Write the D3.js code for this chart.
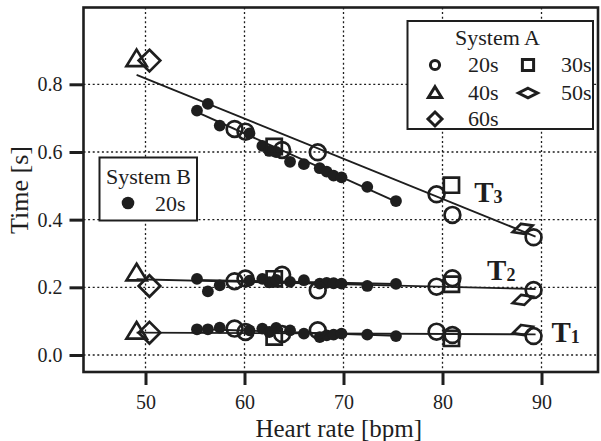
<!DOCTYPE html>
<html><head><meta charset="utf-8">
<script src="https://cdn.jsdelivr.net/npm/d3@7"></script>
<style>
body{margin:0;background:#fff}
text{font-family:"Liberation Serif","Times New Roman",serif;fill:#1e1e1e}
</style>
</head><body>
<svg id="c" width="601" height="441"></svg>
<script>
// ---- data ----
const hrA20 = [59.0, 60.1, 63.8, 67.4, 79.4, 81.0, 89.2];
const t3A20 = [0.668, 0.660, 0.606, 0.599, 0.475, 0.414, 0.348];
const t2A20 = [0.218, 0.226, 0.237, 0.191, 0.202, 0.227, 0.192];
const t1A20 = [0.078, 0.068, 0.062, 0.073, 0.069, 0.059, 0.056];

const hrA30 = [63.0, 80.9];
const t3A30 = [0.616, 0.502];
const t2A30 = [0.225, 0.209];
const t1A30 = [0.053, 0.049];

const hrA40 = [49.1];
const t3A40 = [0.874];
const t2A40 = [0.241];
const t1A40 = [0.069];

const hrA50 = [88.1];
const t3A50 = [0.373];
const t2A50 = [0.163];
const t1A50 = [0.074];

const hrA60 = [50.4];
const t3A60 = [0.870];
const t2A60 = [0.204];
const t1A60 = [0.066];

const hrB20 = [55.2, 56.3, 57.5, 60.5, 61.8, 62.5, 63.2, 64.6, 66.0, 67.6, 68.3, 69.0, 69.8, 72.4, 75.3];
const t3B20 = [0.722, 0.742, 0.678, 0.655, 0.618, 0.603, 0.600, 0.571, 0.564, 0.552, 0.542, 0.530, 0.525, 0.497, 0.455];
const t2B20 = [0.225, 0.188, 0.206, 0.220, 0.225, 0.215, 0.222, 0.216, 0.221, 0.211, 0.213, 0.212, 0.211, 0.204, 0.210];
const t1B20 = [0.076, 0.076, 0.081, 0.073, 0.078, 0.068, 0.080, 0.073, 0.063, 0.053, 0.058, 0.060, 0.063, 0.060, 0.056];

// fitted lines (end points)
const fitAhr = [49.1, 89.4];
const fitAT3 = [0.828, 0.350];
const fitAT2 = [0.224, 0.195];
const fitAT1 = [0.066, 0.061];
const fitBhr = [55.2, 75.3];
const fitBT3 = [0.718, 0.453];
const fitBT2 = [0.222, 0.210];
const fitBT1 = [0.077, 0.057];

const xTicks = [50, 60, 70, 80, 90];
const yTicks = [0.0, 0.2, 0.4, 0.6, 0.8];
const seriesLabels = ["T3", "T2", "T1"];
const labelPos = [[83.2, 0.453], [84.5, 0.222], [91.0, 0.038]]; // anchor in data units

// ---- layout ----
const INK = "#1e1e1e";
const svg = d3.select("#c");
const L = 83.5, R = 598, T = 7.5, B = 372;
const x = d3.scaleLinear().domain([50, 90]).range([145.5, 541.5]);
const y = d3.scaleLinear().domain([0, 0.8]).range([355, 84.3]);

// grid
const g = svg.append("g");
g.selectAll(".vg").data(xTicks).join("line")
  .attr("x1", d => x(d)).attr("x2", d => x(d)).attr("y1", T).attr("y2", B)
  .attr("stroke", INK).attr("stroke-width", 1.3).attr("stroke-dasharray", "2,2.6");
g.selectAll(".hg").data(yTicks).join("line")
  .attr("y1", d => y(d)).attr("y2", d => y(d)).attr("x1", L).attr("x2", R)
  .attr("stroke", INK).attr("stroke-width", 1.3).attr("stroke-dasharray", "2,2.6");

// fit lines
const fits = [[fitAhr, fitAT3], [fitAhr, fitAT2], [fitAhr, fitAT1], [fitBhr, fitBT3], [fitBhr, fitBT2], [fitBhr, fitBT1]];
const lineGen = d3.line().x(d => x(d[0])).y(d => y(d[1]));
fits.forEach(([hx, ty]) => {
  svg.append("path").attr("d", lineGen(hx.map((h, i) => [h, ty[i]])))
    .attr("fill", "none").attr("stroke", INK).attr("stroke-width", 1.9);
});

// markers
function shape(kind, s) {
  switch (kind) {
    case "square": return `M${-s},${-s}H${s}V${s}H${-s}Z`;
    case "triangle": return `M0,${-s*1.05}L${s*1.1},${s*0.75}L${-s*1.1},${s*0.75}Z`;
    case "diamond": return `M0,${-s}L${s},0L0,${s}L${-s},0Z`;
    case "flat": return `M0,${-s*0.5}L${s},0L0,${s*0.5}L${-s},0Z`;
  }
}
const ptsGroup = svg.append("g");
function zip(hr, t) { return hr.map((h, i) => [h, t[i]]); }

// system B filled
[t3B20, t2B20, t1B20].forEach(tt => {
  ptsGroup.append("g").selectAll("circle").data(zip(hrB20, tt)).join("circle")
    .attr("cx", d => x(d[0])).attr("cy", d => y(d[1])).attr("r", 5.9).attr("fill", INK);
});
// system A open
const openStyle = sel => sel.attr("fill", "none").attr("stroke", INK).attr("stroke-width", 2.7).attr("stroke-linejoin", "miter");
[t3A20, t2A20, t1A20].forEach(tt => {
  ptsGroup.append("g").selectAll("circle").data(zip(hrA20, tt)).join("circle")
    .attr("cx", d => x(d[0])).attr("cy", d => y(d[1])).attr("r", 7.9).call(openStyle);
});
const shapeSets = [
  ["square", 7.6, hrA30, [t3A30, t2A30, t1A30], 0],
  ["triangle", 9.2, hrA40, [t3A40, t2A40, t1A40], 0],
  ["flat", 10.5, hrA50, [t3A50, t2A50, t1A50], -18],
  ["diamond", 10.8, hrA60, [t3A60, t2A60, t1A60], 0]
];
shapeSets.forEach(([kind, s, hr, sets, rot]) => {
  sets.forEach(tt => {
    ptsGroup.append("g").selectAll("path").data(zip(hr, tt)).join("path")
      .attr("d", shape(kind, s))
      .attr("transform", d => `translate(${x(d[0])},${y(d[1])}) rotate(${rot})`)
      .call(openStyle);
  });
});

// series labels T3, T2, T1
seriesLabels.forEach((lab, i) => {
  const t = svg.append("text").attr("x", x(labelPos[i][0])).attr("y", y(labelPos[i][1]))
    .attr("font-weight", "bold").attr("font-size", 29);
  t.append("tspan").text(lab[0]);
  t.append("tspan").text(lab.slice(1)).attr("font-size", 18).attr("dy", 1);
});

// axes
const xAxis = svg.append("g").attr("transform", `translate(0,${B})`)
  .call(d3.axisBottom(x).tickValues(xTicks).tickSize(13).tickSizeOuter(0).tickPadding(10).tickFormat(d3.format("d")));
const yAxis = svg.append("g").attr("transform", `translate(${L},0)`)
  .call(d3.axisLeft(y).tickValues(yTicks).tickSize(14).tickSizeOuter(0).tickPadding(7).tickFormat(d3.format(".1f")));
[xAxis, yAxis].forEach(a => {
  a.select(".domain").remove();
  a.selectAll(".tick line").attr("stroke", INK).attr("stroke-width", 3);
  a.selectAll(".tick text").attr("fill", INK).attr("font-size", 20)
    .attr("font-family", "'Liberation Serif','Times New Roman',serif");
});

// frame
svg.append("rect").attr("x", L).attr("y", T).attr("width", R - L).attr("height", B - T)
  .attr("fill", "none").attr("stroke", INK).attr("stroke-width", 2.6);

// axis titles
svg.append("text").attr("x", (L + R) / 2 - 2).attr("y", 437).attr("text-anchor", "middle")
  .attr("font-size", 25).text("Heart rate [bpm]");
svg.append("text").attr("transform", "translate(28,190) rotate(-90)").attr("text-anchor", "middle")
  .attr("font-size", 26).text("Time [s]");

// legend A
const lgA = svg.append("g");
lgA.append("rect").attr("x", 407.5).attr("y", 21).attr("width", 185.5).attr("height", 108)
  .attr("fill", "#fff").attr("stroke", INK).attr("stroke-width", 2);
lgA.append("text").attr("x", 497.5).attr("y", 45).attr("text-anchor", "middle").attr("font-size", 22).text("System A");
const legAItems = [
  ["circle", "20s", 435, 65], ["square", "30s", 528, 65],
  ["triangle", "40s", 435, 93], ["flat", "50s", 528, 93],
  ["diamond", "60s", 435, 119]
];
legAItems.forEach(([kind, lab, mx, my]) => {
  if (kind === "circle") {
    lgA.append("circle").attr("cx", mx).attr("cy", my).attr("r", 4.6).call(openStyle).attr("stroke-width", 3);
  } else {
    const s = {square: 5.6, triangle: 6, flat: 9.5, diamond: 7}[kind];
    lgA.append("path").attr("d", shape(kind, s)).attr("transform", `translate(${mx},${my})`).call(openStyle).attr("stroke-width", 3);
  }
  lgA.append("text").attr("x", mx + 33).attr("y", my + 7).attr("font-size", 22).text(lab);
});

// legend B
const lgB = svg.append("g");
lgB.append("rect").attr("x", 99.5).attr("y", 157.5).attr("width", 97.5).attr("height", 63)
  .attr("fill", "#fff").attr("stroke", INK).attr("stroke-width", 2);
lgB.append("text").attr("x", 148.5).attr("y", 184).attr("text-anchor", "middle").attr("font-size", 22).text("System B");
lgB.append("circle").attr("cx", 128).attr("cy", 203).attr("r", 6.3).attr("fill", INK);
lgB.append("text").attr("x", 155).attr("y", 211).attr("font-size", 22).text("20s");
</script>
</body></html>
